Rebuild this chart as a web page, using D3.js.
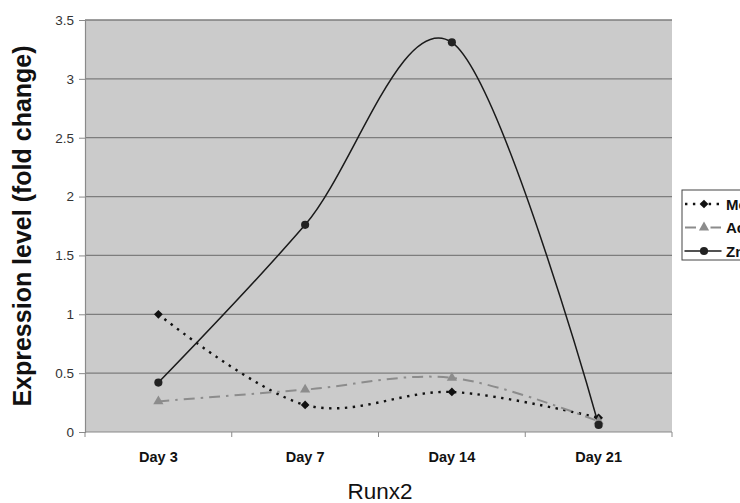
<!DOCTYPE html>
<html>
<head>
<meta charset="utf-8">
<script src="https://cdn.jsdelivr.net/npm/d3@7"></script>
<style>
  html, body { margin: 0; padding: 0; background: #fff; overflow: hidden; }
  svg { display: block; font-family: Arial, "Liberation Sans", sans-serif; }
</style>
</head>
<body>
<svg id="chart" width="740" height="503"></svg>
<script>
// Runx2 expression (fold change) over culture time
const days = ["Day 3", "Day 7", "Day 14", "Day 21"];
const mockValues = [1.00, 0.23, 0.34, 0.12];
const acidValues = [0.26, 0.36, 0.46, 0.09];
const znValues   = [0.42, 1.76, 3.31, 0.06];
const seriesNames = ["Mock", "Acid", "Zn"];
const yTicks = [0, 0.5, 1, 1.5, 2, 2.5, 3, 3.5];
const yTitle = "Expression level (fold change)";
const xTitle = "Runx2";

const svg = d3.select("#chart");
const plot = { left: 85, right: 672, top: 20, bottom: 432 };

const x = d3.scaleBand().domain(days).range([plot.left, plot.right]);
const y = d3.scaleLinear().domain([0, 3.5]).range([plot.bottom, plot.top]);
const cx = d => x(d) + x.bandwidth() / 2;

// plot background
svg.append("rect")
  .attr("x", plot.left).attr("y", plot.top)
  .attr("width", plot.right - plot.left).attr("height", plot.bottom - plot.top)
  .attr("fill", "#cbcbcb");

// horizontal gridlines
svg.append("g").selectAll("line").data(yTicks.filter(t => t > 0)).join("line")
  .attr("x1", plot.left).attr("x2", plot.right)
  .attr("y1", d => y(d)).attr("y2", d => y(d))
  .attr("stroke", "#7d7d7d").attr("stroke-width", 1.3);

// y axis
const yAxis = svg.append("g").attr("transform", `translate(${plot.left},0)`)
  .call(d3.axisLeft(y).tickValues(yTicks).tickSize(6).tickPadding(5).tickFormat(d3.format("~g")));
yAxis.select(".domain").attr("stroke", "#8a8a8a").attr("stroke-width", 1.2);
yAxis.selectAll(".tick line").attr("stroke", "#8a8a8a");
yAxis.selectAll(".tick text").attr("font-size", 13.5).attr("fill", "#333")
  .attr("font-family", "Arial, 'Liberation Sans', sans-serif");

// x axis: ticks at category boundaries
const xAxisG = svg.append("g");
xAxisG.append("line")
  .attr("x1", plot.left).attr("x2", plot.right)
  .attr("y1", plot.bottom).attr("y2", plot.bottom)
  .attr("stroke", "#8a8a8a").attr("stroke-width", 1.2);
const bounds = days.map(d => x(d)).concat([x(days[days.length - 1]) + x.bandwidth()]);
xAxisG.selectAll("line.tk").data(bounds).join("line").attr("class", "tk")
  .attr("x1", d => d).attr("x2", d => d)
  .attr("y1", plot.bottom).attr("y2", plot.bottom + 5)
  .attr("stroke", "#8a8a8a");
xAxisG.selectAll("text").data(days).join("text")
  .attr("x", d => cx(d)).attr("y", 462)
  .attr("text-anchor", "middle").attr("font-size", 14.5).attr("font-weight", "bold")
  .attr("fill", "#111").text(d => d);

// axis titles
svg.append("text")
  .attr("transform", `translate(31,${(plot.top + plot.bottom) / 2}) rotate(-90)`)
  .attr("text-anchor", "middle").attr("font-size", 25).attr("font-weight", "bold")
  .attr("fill", "#111").text(yTitle);
svg.append("text")
  .attr("x", 380).attr("y", 499)
  .attr("text-anchor", "middle").attr("font-size", 22.5)
  .attr("fill", "#111").text(xTitle);

// series
const line = d3.line().x(d => cx(d.day)).y(d => y(d.v)).curve(d3.curveCardinal.tension(0));
const toPts = vals => days.map((day, i) => ({ day, v: vals[i] }));

const styles = [
  { vals: mockValues, stroke: "#111", width: 2.4, dash: "2.4,5.5", cap: "butt", marker: "diamond", fill: "#111" },
  { vals: acidValues, stroke: "#8c8c8c", width: 2, dash: "11,6,2.5,6", cap: "butt", marker: "triangle", fill: "#8c8c8c" },
  { vals: znValues,   stroke: "#1a1a1a", width: 1.5, dash: null, cap: "round", marker: "circle", fill: "#222" }
];
const symType = { diamond: d3.symbolSquare, triangle: d3.symbolTriangle, circle: d3.symbolCircle };
const symSize = { diamond: 38, triangle: 45, circle: 52 };
const symRot = { diamond: 45, triangle: 0, circle: 0 };

styles.forEach(s => {
  svg.append("path").datum(toPts(s.vals))
    .attr("d", line).attr("fill", "none")
    .attr("stroke", s.stroke).attr("stroke-width", s.width)
    .attr("stroke-dasharray", s.dash).attr("stroke-linecap", s.cap);
});
styles.forEach(s => {
  svg.append("g").selectAll("path").data(toPts(s.vals)).join("path")
    .attr("transform", d => `translate(${cx(d.day)},${y(d.v)}) rotate(${symRot[s.marker]})`)
    .attr("d", d3.symbol().type(symType[s.marker]).size(symSize[s.marker]))
    .attr("fill", s.fill);
});

// legend
const lg = svg.append("g");
lg.append("rect").attr("x", 682).attr("y", 190).attr("width", 80).attr("height", 70)
  .attr("fill", "#fff").attr("stroke", "#444").attr("stroke-width", 1);
const rowY = [204, 227.5, 251];
styles.forEach((s, i) => {
  lg.append("line").attr("x1", 685).attr("x2", 721).attr("y1", rowY[i]).attr("y2", rowY[i])
    .attr("stroke", s.stroke).attr("stroke-width", s.width)
    .attr("stroke-dasharray", s.dash).attr("stroke-linecap", s.cap);
  lg.append("path").attr("transform", `translate(704,${rowY[i]}) rotate(${symRot[s.marker]})`)
    .attr("d", d3.symbol().type(symType[s.marker]).size(symSize[s.marker]))
    .attr("fill", s.fill);
  lg.append("text").attr("x", 726).attr("y", rowY[i] + 5.5)
    .attr("font-size", 15).attr("font-weight", "bold").attr("fill", "#111")
    .text(seriesNames[i]);
});
</script>
</body>
</html>
